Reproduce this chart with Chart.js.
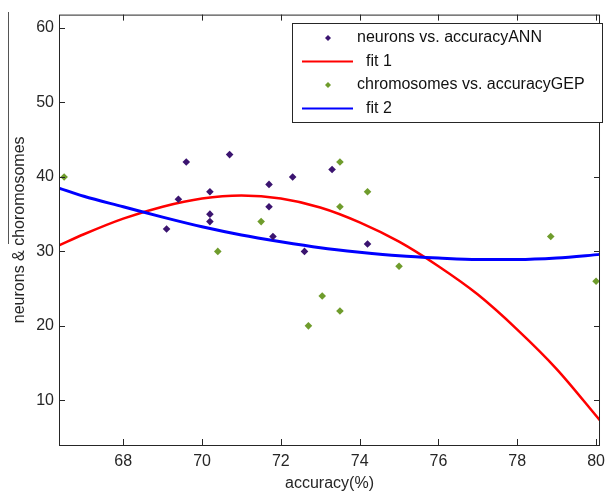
<!DOCTYPE html>
<html>
<head>
<meta charset="utf-8">
<script src="https://cdn.jsdelivr.net/npm/chart.js@4.4.1/dist/chart.umd.min.js"></script>
<style>
  html, body { margin: 0; padding: 0; background: #fff; }
  #wrap { width: 612px; height: 491px; }
</style>
</head>
<body>
<div id="wrap"><canvas id="fitChart" width="612" height="491"></canvas></div>
<script>
// data
const annX = [69.6, 70.7, 72.3, 71.7, 69.4, 70.2, 71.7, 70.2, 70.2, 69.1, 71.8, 72.6, 73.3, 74.2];
const annY = [42, 43, 40, 39, 37, 38, 36, 35, 34, 33, 32, 30, 41, 31];
const gepX = [66.5, 70.4, 71.5, 72.7, 73.05, 73.5, 73.5, 73.5, 74.2, 75.0, 78.85, 80.0];
const gepY = [40, 30, 34, 20, 24, 42, 36, 22, 38, 28, 32, 26];
const fitX = [66.37, 67, 68, 69, 70, 71, 72, 73, 74, 75, 76, 77, 78, 79, 80.1];
const fit1Y = [30.8, 32.3, 34.4, 36.0, 37.1, 37.5, 37.1, 35.9, 33.9, 31.3, 28.0, 24.2, 19.5, 14.2, 7.3];
const fit2Y = [38.5, 37.4, 36.0, 34.6, 33.3, 32.2, 31.3, 30.5, 29.9, 29.4, 29.1, 28.9, 28.9, 29.1, 29.6];
const xTicks = [68, 70, 72, 74, 76, 78, 80];
const yTicks = [10, 20, 30, 40, 50, 60];
const seriesNames = ['neurons vs. accuracyANN', 'fit 1', 'chromosomes vs. accuracyGEP', 'fit 2'];

const FONT = 'Liberation Sans, Arial, sans-serif';
const AXIS = '#262626';

function pts(xs, ys) {
    return xs.map((x, i) => ({ x: x, y: ys[i] }));
}

// matlab style box with inward ticks, plus the stray line on the left
const boxPlugin = {
    id: 'box',
    afterDatasetsDraw(chart) {
        const { ctx, chartArea: a, scales } = chart;
        ctx.save();
        ctx.strokeStyle = AXIS;
        ctx.lineWidth = 1;
        ctx.strokeRect(a.left + 0.5, a.top + 0.5, a.right - a.left - 1, a.bottom - a.top);
        ctx.beginPath();
        xTicks.forEach(v => {
            const px = Math.round(scales.x.getPixelForValue(v)) + 0.5;
            ctx.moveTo(px, a.bottom); ctx.lineTo(px, a.bottom - 6);
            ctx.moveTo(px, a.top); ctx.lineTo(px, a.top + 6);
        });
        yTicks.forEach(v => {
            const py = Math.round(scales.y.getPixelForValue(v)) + 0.5;
            ctx.moveTo(a.left, py); ctx.lineTo(a.left + 6, py);
            ctx.moveTo(a.right, py); ctx.lineTo(a.right - 6, py);
        });
        ctx.stroke();
        ctx.strokeStyle = '#555';
        ctx.beginPath();
        ctx.moveTo(8.5, 12); ctx.lineTo(8.5, 244);
        ctx.stroke();
        ctx.restore();
    }
};

const legendPlugin = {
    id: 'boxLegend',
    afterDraw(chart) {
        const ctx = chart.ctx;
        const sets = chart.data.datasets;
        const L = 292, T = 23, R = 602, B = 122;
        ctx.save();
        ctx.fillStyle = '#fff';
        ctx.fillRect(L, T, R - L, B - T);
        ctx.strokeStyle = AXIS;
        ctx.lineWidth = 1;
        ctx.strokeRect(L + 0.5, T + 0.5, R - L, B - T);
        ctx.font = '16px ' + FONT;
        ctx.textBaseline = 'middle';
        [0, 2, 1, 3].forEach((di, row) => {
            const ds = sets[di];
            const y = 38 + row * 23.5;
            if (ds.showLine) {
                ctx.strokeStyle = ds.borderColor;
                ctx.lineWidth = 2;
                ctx.beginPath();
                ctx.moveTo(302, y); ctx.lineTo(353, y);
                ctx.stroke();
            } else {
                ctx.fillStyle = ds.pointBackgroundColor;
                ctx.beginPath();
                ctx.moveTo(328, y - 3); ctx.lineTo(331, y); ctx.lineTo(328, y + 3); ctx.lineTo(325, y);
                ctx.closePath();
                ctx.fill();
            }
            ctx.fillStyle = '#111';
            ctx.fillText(ds.label, ds.showLine ? 366 : 357, y);
        });
        ctx.restore();
    }
};

new Chart(document.getElementById('fitChart').getContext('2d'), {
    type: 'scatter',
    data: {
        datasets: [
            {
                label: seriesNames[0],
                data: pts(annX, annY),
                pointStyle: 'rectRot',
                pointRadius: 3.8,
                pointBackgroundColor: '#3b1470',
                pointBorderWidth: 0,
                showLine: false,
                order: 1
            },
            {
                label: seriesNames[2],
                data: pts(gepX, gepY),
                pointStyle: 'rectRot',
                pointRadius: 3.8,
                pointBackgroundColor: '#6f9c2c',
                pointBorderWidth: 0,
                showLine: false,
                order: 2
            },
            {
                label: seriesNames[1],
                data: pts(fitX, fit1Y),
                showLine: true,
                borderColor: '#ff0000',
                borderWidth: 2.5,
                pointRadius: 0,
                tension: 0.4,
                cubicInterpolationMode: 'monotone',
                order: 4
            },
            {
                label: seriesNames[3],
                data: pts(fitX, fit2Y),
                showLine: true,
                borderColor: '#0000ff',
                borderWidth: 3,
                pointRadius: 0,
                tension: 0.4,
                cubicInterpolationMode: 'monotone',
                order: 3
            }
        ]
    },
    options: {
        responsive: false,
        animation: false,
        layout: { padding: { top: 13, right: 5, left: 3, bottom: 0 } },
        plugins: {
            legend: { display: false },
            tooltip: { enabled: false }
        },
        scales: {
            x: {
                type: 'linear',
                min: 66.37,
                max: 80.1,
                grid: { display: false, drawTicks: false },
                border: { display: false },
                afterBuildTicks: s => { s.ticks = xTicks.map(v => ({ value: v })); },
                afterFit: s => { s.height = 46; },
                ticks: {
                    font: { family: FONT, size: 16 },
                    color: AXIS,
                    padding: 7,
                    maxRotation: 0
                },
                title: {
                    display: true,
                    text: 'accuracy(%)',
                    font: { family: FONT, size: 16 },
                    color: AXIS,
                    padding: { top: 0, bottom: -2 }
                }
            },
            y: {
                min: 4,
                max: 61.8,
                grid: { display: false, drawTicks: false },
                border: { display: false },
                afterBuildTicks: s => { s.ticks = yTicks.map(v => ({ value: v })); },
                afterFit: s => { s.width = 56; },
                ticks: {
                    font: { family: FONT, size: 16 },
                    color: AXIS,
                    padding: 5
                },
                title: {
                    display: true,
                    text: 'neurons & choromosomes',
                    font: { family: FONT, size: 16 },
                    color: AXIS,
                    padding: 7
                }
            }
        }
    },
    plugins: [boxPlugin, legendPlugin]
});
</script>
</body>
</html>
